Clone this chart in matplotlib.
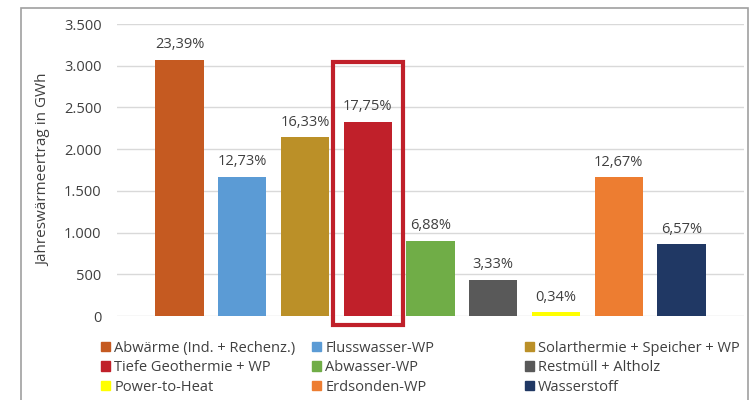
import matplotlib
matplotlib.use("Agg")
import matplotlib.pyplot as plt
from matplotlib.patches import Rectangle, Patch

kategorien = ["Abwärme (Ind. + Rechenz.)", "Flusswasser-WP", "Solarthermie + Speicher + WP",
              "Tiefe Geothermie + WP", "Abwasser-WP", "Restmüll + Altholz",
              "Power-to-Heat", "Erdsonden-WP", "Wasserstoff"]
werte = [3070, 1671, 2143, 2330, 903, 437, 45, 1663, 862]
anteile = ["23,39%", "12,73%", "16,33%", "17,75%", "6,88%", "3,33%", "0,34%", "12,67%", "6,57%"]
farben = ["#c55a21", "#5b9bd5", "#bb9028", "#c0202a", "#70ad47", "#595959",
          "#ffff00", "#ed7d31", "#203864"]
yticks = [0, 500, 1000, 1500, 2000, 2500, 3000, 3500]
markiert = 3

plt.rcParams['font.family'] = ['Open Sans', 'DejaVu Sans']

fig = plt.figure(figsize=(7.54, 4.0), dpi=100)
ax = fig.add_axes([0.155, 0.21, 0.832, 0.73])

x = list(range(len(werte)))
ax.bar(x, werte, width=0.77, color=farben, zorder=3)
for xi, v, t in zip(x, werte, anteile):
    ax.text(xi, v + 90, t, ha='center', va='bottom', fontsize=10.5, color='#404040')

# roter Rahmen um Tiefe Geothermie
ax.add_patch(Rectangle((markiert - 0.56, -110), 1.12, werte[markiert] + 830,
                       fill=False, edgecolor='#c0202a', linewidth=3, clip_on=False, zorder=4))

ax.set_xlim(-1, 9)
ax.set_ylim(0, 3500)
ax.set_yticks(yticks)
ax.set_yticklabels([f"{t:,}".replace(",", ".") for t in yticks], fontsize=10.5, color='#404040')
ax.set_xticks([])
ax.tick_params(axis='y', length=0, pad=11)
ax.grid(axis='y', color='#d9d9d9', linewidth=1, zorder=0)
for s in ax.spines.values():
    s.set_visible(False)
ax.set_ylabel("Jahreswärmeertrag in GWh", fontsize=11, color='#404040', labelpad=9)

# Legende: drei Spalten, zeilenweise wie im Original
spalten_x = [0.134, 0.414, 0.696]
spalten = [[0, 3, 6], [1, 4, 7], [2, 5, 8]]
for sx, idx in zip(spalten_x, spalten):
    handles = [Patch(color=farben[i], label=kategorien[i]) for i in idx]
    fig.legend(handles=handles, loc='upper left', bbox_to_anchor=(sx, 0.148),
               frameon=False, fontsize=10.5, handlelength=0.6, handleheight=0.6,
               handletextpad=0.3, labelspacing=0.3, borderpad=0, borderaxespad=0,
               labelcolor='#404040')

# äußerer Rahmen
fig.add_artist(Rectangle((0.028, -0.02), 0.964, 1.0, transform=fig.transFigure,
                         fill=False, edgecolor='#a0a0a0', linewidth=1.2))

fig.savefig("out.png", dpi=100, facecolor='white')
